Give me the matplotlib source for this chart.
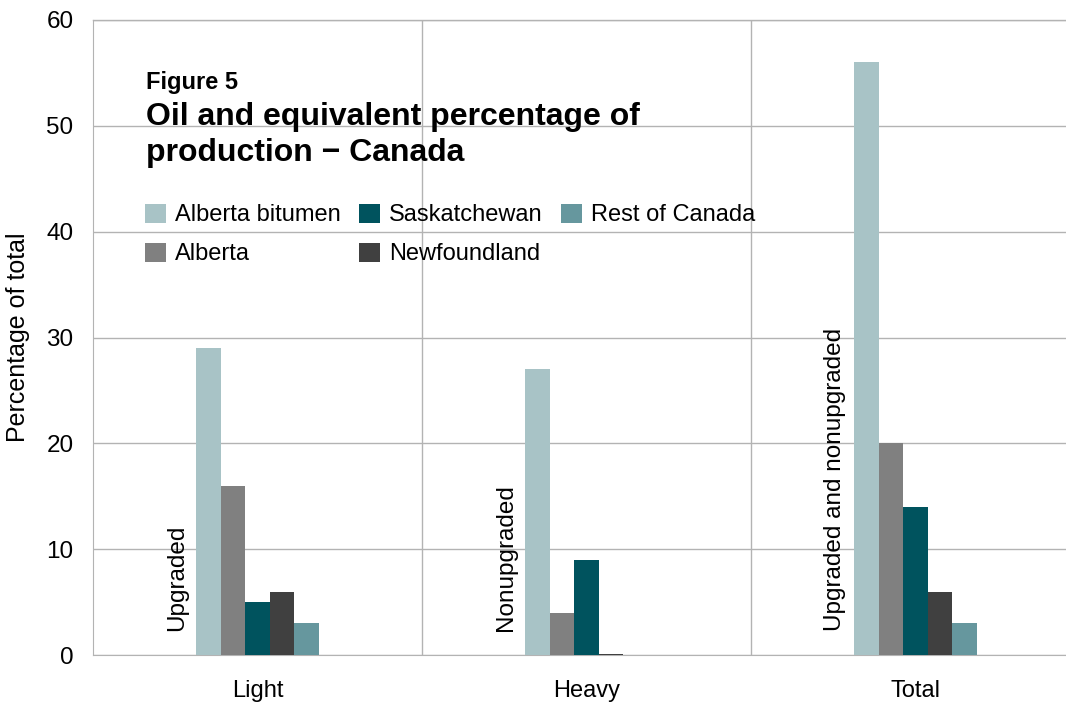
import numpy as np
import matplotlib
matplotlib.use("Agg")
import matplotlib.pyplot as plt
from matplotlib.patches import Patch

plt.rcParams['font.family'] = ['Liberation Sans', 'DejaVu Sans']

categories = ["Light", "Heavy", "Total"]
group_labels = ["Upgraded", "Nonupgraded", "Upgraded and nonupgraded"]
series_names = ["Alberta bitumen", "Alberta", "Saskatchewan", "Newfoundland", "Rest of Canada"]
alberta_bitumen = [29, 27, 56]
alberta = [16, 4, 20]
saskatchewan = [5, 9, 14]
newfoundland = [6, 0.1, 6]
rest_of_canada = [3, 0, 3]
y_ticks = [0, 10, 20, 30, 40, 50, 60]

series_values = [alberta_bitumen, alberta, saskatchewan, newfoundland, rest_of_canada]
colors = ["#A8C3C6", "#808080", "#00535E", "#404040", "#66979E"]

fig = plt.figure(figsize=(10.66, 7.02), dpi=100)
ax = fig.add_axes([93 / 1066, 47 / 702, 987 / 1066, 635 / 702])

x = np.arange(len(categories))
w = 0.0742
for i, (vals, c) in enumerate(zip(series_values, colors)):
    ax.bar(x + (i - 2) * w, vals, width=w, color=c, linewidth=0, zorder=3)

ax.set_xlim(-0.5, 2.5)
ax.set_ylim(0, 60)
ax.set_yticks(y_ticks)
ax.set_xticks(x)
ax.set_xticklabels(categories, fontsize=17)
ax.tick_params(axis='x', length=0, pad=18)
ax.tick_params(axis='y', length=0, labelsize=17.5, pad=14)

grid_c = "#B3B3B3"
ax.yaxis.grid(True, color=grid_c, linewidth=1, zorder=0)
for xv in [0.5, 1.5]:
    ax.axvline(xv, color=grid_c, linewidth=1, zorder=0)
for s in ["top", "right"]:
    ax.spines[s].set_visible(False)
ax.spines["left"].set_color(grid_c)
ax.spines["bottom"].set_color(grid_c)
ax.axhline(60, color=grid_c, linewidth=1, zorder=0, clip_on=False)

ax.set_ylabel("Percentage of total", fontsize=18, labelpad=12)

for xi, lab in zip(x, group_labels):
    ax.text(xi - 0.245, 2.3, lab, rotation=90, ha='center', va='bottom', fontsize=17.5, zorder=4)

fig.text(146 / 1066, 1 - 82 / 702, "Figure 5", fontsize=17, fontweight='bold', va='center', ha='left')
fig.text(146 / 1066, 1 - 135 / 702, "Oil and equivalent percentage of\nproduction \u2212 Canada",
         fontsize=23, fontweight='bold', va='center', ha='left', linespacing=1.25)

handles = [Patch(facecolor=c, edgecolor='none') for c in colors]
leg = fig.legend(handles, series_names, ncol=3, loc='upper left',
                 bbox_to_anchor=(128 / 1066, 1 - 187 / 702), frameon=False,
                 fontsize=17, handlelength=0.9, handleheight=0.9, handletextpad=0.4,
                 columnspacing=0.75, labelspacing=0.68, borderpad=0.2)

fig.savefig("out.png", dpi=100)
